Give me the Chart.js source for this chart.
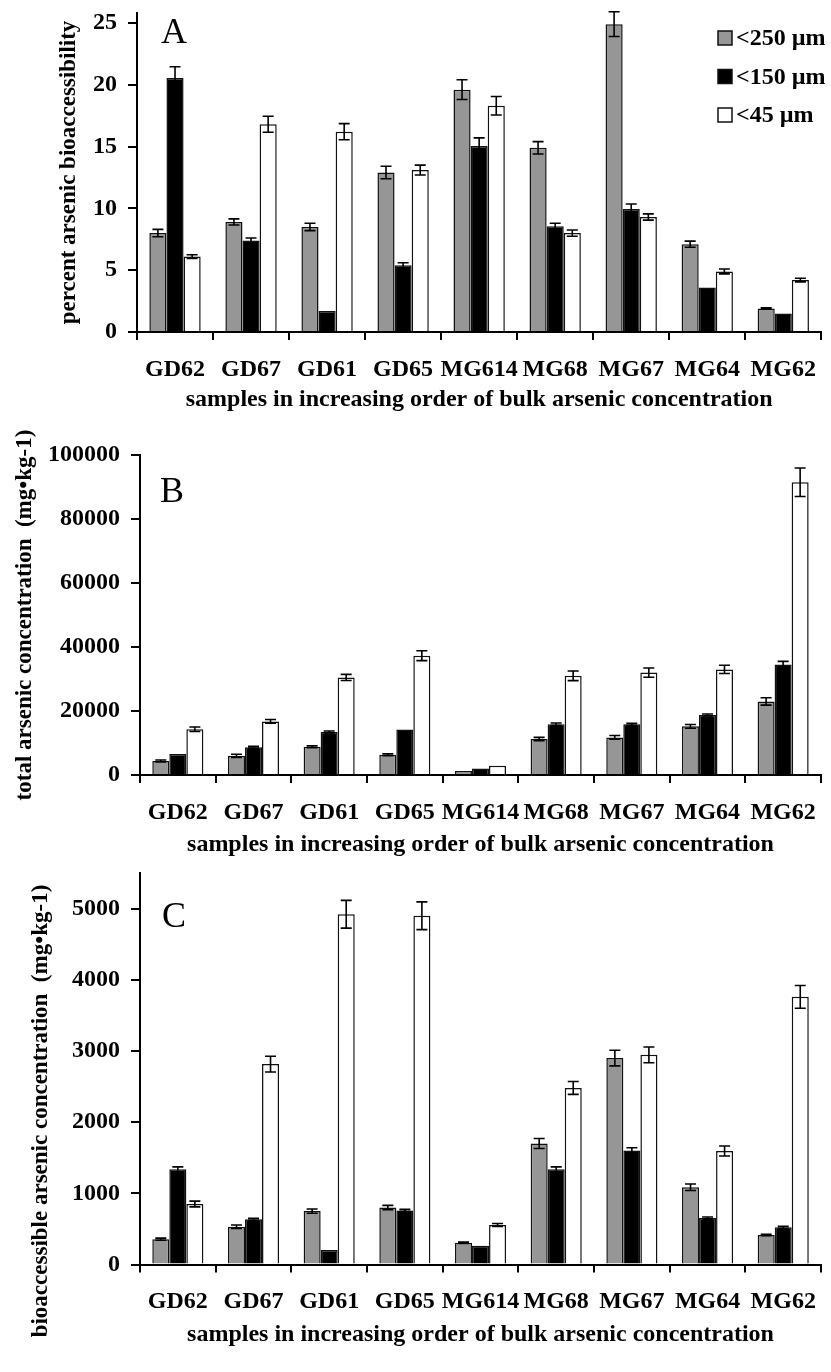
<!DOCTYPE html>
<html><head><meta charset="utf-8">
<script src="https://cdn.jsdelivr.net/npm/chart.js@4.4.1/dist/chart.umd.min.js"></script>
<style>
html,body{margin:0;padding:0;background:#fff;}
#wrap{position:relative;width:831px;height:1372px;overflow:hidden;}
.panel{position:absolute;left:0;width:831px;}
canvas{display:block;}
</style></head><body>
<div id="wrap">
  <div class="panel" style="top:0px;height:425px"><canvas id="cA" width="831" height="425"></canvas></div>
  <div class="panel" style="top:425px;height:437px"><canvas id="cB" width="831" height="437"></canvas></div>
  <div class="panel" style="top:862px;height:510px"><canvas id="cC" width="831" height="510"></canvas></div>
</div>
<script>
// ---------- data ----------
const categories = ['GD62','GD67','GD61','GD65','MG614','MG68','MG67','MG64','MG62'];
const seriesLabels = ['<250 \u00b5m','<150 \u00b5m','<45 \u00b5m'];

// Panel A: percent arsenic bioaccessibility
const pctBio250 = [8.0, 8.9, 8.5, 12.9, 19.6, 14.9, 24.9, 7.1, 1.9];
const pctBio150 = [20.55, 7.4, 1.7, 5.4, 15.05, 8.55, 9.95, 3.6, 1.5];
const pctBio45  = [6.1, 16.8, 16.2, 13.1, 18.3, 8.0, 9.3, 4.9, 4.2];
const errA250 = [0.3, 0.25, 0.3, 0.5, 0.8, 0.5, 1.0, 0.25, 0.05];
const errA150 = [0.9, 0.2, 0, 0.2, 0.65, 0.25, 0.4, 0, 0];
const errA45  = [0.15, 0.65, 0.65, 0.4, 0.75, 0.25, 0.25, 0.2, 0.15];
const ticksA = [0, 5, 10, 15, 20, 25];

// Panel B: total arsenic concentration (mg/kg)
const total250 = [4400, 6000, 8850, 6350, 1250, 11250, 11750, 15200, 23000];
const total150 = [6550, 8650, 13450, 14250, 2000, 15850, 15850, 18750, 34500];
const total45  = [14300, 16750, 30500, 37300, 2900, 31000, 32000, 33000, 91500];
const errB250 = [300, 500, 300, 300, 0, 500, 600, 600, 1150];
const errB150 = [0, 300, 300, 0, 0, 400, 300, 300, 1000];
const errB45  = [700, 600, 950, 1550, 0, 1500, 1450, 1300, 4450];
const ticksB = [0, 20000, 40000, 60000, 80000, 100000];

// Panel C: bioaccessible arsenic concentration (mg/kg)
const bio250 = [355, 530, 750, 800, 305, 1700, 2900, 1085, 415];
const bio150 = [1337, 635, 205, 760, 265, 1337, 1600, 653, 522];
const bio45  = [850, 2815, 4920, 4900, 555, 2480, 2945, 1595, 3760];
const errC250 = [15, 25, 30, 30, 10, 70, 110, 45, 10];
const errC150 = [35, 15, 0, 15, 0, 35, 40, 15, 15];
const errC45  = [40, 110, 195, 195, 20, 90, 110, 70, 160];
const ticksC = [0, 1000, 2000, 3000, 4000, 5000];

const xTitle = 'samples in increasing order of bulk arsenic concentration';

// ---------- styles ----------
const FONT = '"Liberation Serif", "Times New Roman", serif';
const fills = ['#969696', '#000000', '#ffffff'];
const edge = '#111111';

const errorBars = {
  id: 'errorBars',
  afterDatasetsDraw(chart) {
    const ctx = chart.ctx, ys = chart.scales.y;
    ctx.save();
    ctx.strokeStyle = '#000';
    ctx.lineWidth = 1.6;
    chart.data.datasets.forEach((ds, i) => {
      const meta = chart.getDatasetMeta(i);
      meta.data.forEach((bar, j) => {
        const e = ds.errors[j];
        if (!e) return;
        const v = ds.data[j];
        const yt = ys.getPixelForValue(v + e), yb = ys.getPixelForValue(v - e);
        const x = bar.x, hw = 5.5;
        ctx.beginPath();
        ctx.moveTo(x, yt); ctx.lineTo(x, yb);
        ctx.moveTo(x - hw, yt); ctx.lineTo(x + hw, yt);
        ctx.moveTo(x - hw, yb); ctx.lineTo(x + hw, yb);
        ctx.stroke();
      });
    });
    ctx.restore();
  }
};

const decor = {
  id: 'decor',
  afterDraw(chart, args, o) {
    const ctx = chart.ctx;
    ctx.save();
    ctx.fillStyle = '#000';
    if (o.letter) {
      ctx.font = '36px ' + FONT;
      ctx.textAlign = 'left'; ctx.textBaseline = 'alphabetic';
      ctx.fillText(o.letter.text, o.letter.x, o.letter.y);
    }
    if (o.legend) {
      const L = o.legend;
      ctx.font = 'bold 24px ' + FONT;
      ctx.textBaseline = 'middle'; ctx.textAlign = 'left';
      chart.data.datasets.forEach((ds, i) => {
        const cy = L.y + i * L.gap;
        ctx.fillStyle = ds.backgroundColor;
        ctx.fillRect(L.x, cy - L.box / 2, L.box, L.box);
        ctx.strokeStyle = ds.borderColor; ctx.lineWidth = 1.5;
        ctx.strokeRect(L.x, cy - L.box / 2, L.box, L.box);
        ctx.fillStyle = '#000';
        ctx.fillText(ds.label, L.x + L.box + 4, cy + 1);
      });
    }
    if (o.yTitle) {
      const T = o.yTitle;
      ctx.font = 'bold 23px ' + FONT;
      ctx.translate(T.x, T.y);
      ctx.rotate(-Math.PI / 2);
      ctx.textAlign = 'center'; ctx.textBaseline = 'middle';
      ctx.fillText(T.text, 0, 0);
    }
    ctx.restore();
  }
};

function makeDatasets(vals, errs) {
  return vals.map((v, i) => ({
    label: seriesLabels[i],
    data: v,
    errors: errs[i],
    backgroundColor: fills[i],
    borderColor: edge,
    borderWidth: 1.5,
    borderSkipped: 'bottom',
    barPercentage: 1.0,
    categoryPercentage: 0.675
  }));
}

function makeChart(id, cfg) {
  return new Chart(document.getElementById(id), {
    type: 'bar',
    data: { labels: categories, datasets: makeDatasets(cfg.vals, cfg.errs) },
    plugins: [errorBars, decor],
    options: {
      responsive: false,
      animation: false,
      events: [],
      layout: { padding: cfg.pad },
      plugins: {
        legend: { display: false },
        tooltip: { enabled: false },
        decor: cfg.decor
      },
      scales: {
        x: {
          afterFit(s) { s.height = cfg.xH; },
          grid: { display: true, drawOnChartArea: false, drawTicks: true, tickLength: 8, color: '#000', lineWidth: 2, offset: true },
          border: { display: true, color: '#000', width: 2 },
          ticks: { color: '#000', font: { family: FONT, size: 24, weight: 'bold' }, padding: cfg.xTickPad, maxRotation: 0, autoSkip: false },
          title: { display: true, text: xTitle, color: '#000', font: { family: FONT, size: 24, weight: 'bold' }, padding: { top: 0, bottom: cfg.xTitlePad } }
        },
        y: {
          min: 0, max: cfg.max,
          afterFit(s) { s.width = cfg.yW; s.paddingTop = 0; s.paddingBottom = 0; },
          afterBuildTicks(s) { s.ticks = cfg.ticks.map(v => ({ value: v })); },
          grid: { display: true, drawOnChartArea: false, drawTicks: true, tickLength: 9, color: '#000', lineWidth: 2 },
          border: { display: true, color: '#000', width: 2 },
          ticks: { color: '#000', font: { family: FONT, size: 24, weight: 'bold' }, padding: 11, callback: v => String(v) },
          title: cfg.yTitle ? { display: true, text: cfg.yTitle, color: '#000', font: { family: FONT, size: 23, weight: 'bold' }, padding: { top: cfg.yTitlePad, bottom: 0 } } : { display: false }
        }
      }
    }
  });
}

makeChart('cA', {
  vals: [pctBio250, pctBio150, pctBio45], errs: [errA250, errA150, errA45],
  max: 25.8, ticks: ticksA,
  pad: { top: 13, right: 1, bottom: 0, left: 0 },
  xH: 93, yW: 137, xTickPad: 15, xTitlePad: 11,
  yTitle: 'percent arsenic bioaccessibility', yTitlePad: 55,
  decor: { letter: { text: 'A', x: 161, y: 43 }, legend: { x: 718, y: 38, gap: 38.5, box: 14 } }
});

makeChart('cB', {
  vals: [total250, total150, total45], errs: [errB250, errB150, errB45],
  max: 100000, ticks: ticksB,
  pad: { top: 30, right: 4, bottom: 0, left: 0 },
  xH: 87, yW: 140, xTickPad: 15, xTitlePad: 3,
  yTitle: 'total arsenic concentration  (mg\u2022kg-1)', yTitlePad: 11,
  decor: { letter: { text: 'B', x: 160, y: 502 - 425 } }
});

makeChart('cC', {
  vals: [bio250, bio150, bio45], errs: [errC250, errC150, errC45],
  max: 5500, ticks: ticksC,
  pad: { top: 11, right: 2, bottom: 0, left: 0 },
  xH: 107.5, yW: 140, xTickPad: 15, xTitlePad: 23,
  yTitle: null,
  decor: { letter: { text: 'C', x: 162, y: 927 - 862 },
           yTitle: { text: 'bioaccessible arsenic concentration  (mg\u2022kg-1)', x: 41, y: 249 } }
});
</script>
</body></html>
